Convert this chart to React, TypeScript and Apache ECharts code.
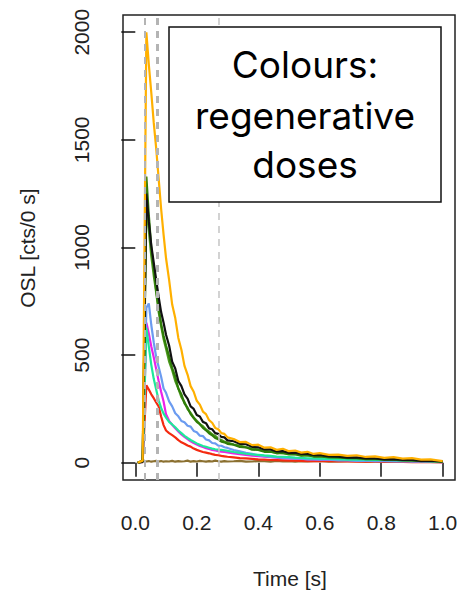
import React, { useEffect, useRef } from "react";
import * as echarts from "echarts";

const TIME = [
  0.008, 0.024, 0.036, 0.044, 0.052, 0.06, 0.068, 0.076, 0.084, 0.092,
  0.1, 0.11, 0.12, 0.13, 0.14, 0.15, 0.16, 0.17, 0.18, 0.19,
  0.2, 0.21, 0.22, 0.23, 0.24, 0.25, 0.26, 0.27, 0.28, 0.29,
  0.3, 0.32, 0.34, 0.36, 0.38, 0.4, 0.42, 0.44, 0.46, 0.48,
  0.5, 0.52, 0.54, 0.56, 0.58, 0.6, 0.63, 0.66, 0.69, 0.72,
  0.75, 0.78, 0.81, 0.84, 0.87, 0.9, 0.93, 0.96, 1.0,
];

const ORANGE = [
  0, 10, 2000, 1850, 1720, 1580, 1460, 1320, 1180, 1060,
  950, 850, 735, 672, 580, 525, 450, 410, 356, 330,
  288, 270, 238, 226, 198, 186, 162, 156, 138, 134,
  118, 110, 96, 97, 82, 84, 70, 72, 60, 65,
  54, 57, 47, 51, 41, 45, 37, 38, 32, 35,
  27, 30, 23, 26, 19, 22, 15, 16, 8,
];
const BLACK = [
  0, 5, 1250, 1120, 1010, 930, 850, 770, 700, 650,
  595, 545, 470, 438, 380, 356, 318, 298, 262, 250,
  222, 215, 190, 184, 160, 156, 138, 134, 120, 118,
  104, 100, 88, 86, 74, 72, 62, 62, 53, 54,
  46, 47, 41, 41, 36, 37, 30, 29, 24, 25,
  20, 20, 16, 17, 13, 13, 9, 10, 6,
];
const GREEN = [
  0, 8, 1330, 1150, 1000, 900, 800, 720, 645, 590,
  545, 495, 440, 400, 345, 318, 276, 256, 226, 208,
  190, 179, 162, 151, 137, 128, 115, 109, 98, 95,
  88, 84, 74, 72, 61, 60, 51, 52, 44, 46,
  39, 40, 33, 35, 29, 30, 25, 25, 21, 21,
  17, 18, 14, 15, 11, 12, 8, 9, 5,
];
const GREEN2 = [
  0, 6, 1200, 1080, 960, 870, 790, 700, 635, 575,
  530, 470, 430, 380, 345, 305, 282, 250, 232, 210,
  195, 180, 170, 155, 145, 132, 125, 112, 106, 98,
  94, 85, 80, 72, 66, 61, 55, 52, 47, 45,
  41, 40, 35, 34, 31, 30, 27, 25, 23, 21,
  19, 18, 16, 14, 13, 11, 10, 8, 5,
];
const BLUE = [
  0, 5, 720, 740, 640, 560, 490, 445, 400, 345,
  325, 285, 262, 230, 216, 194, 188, 172, 168, 148,
  142, 126, 124, 108, 104, 92, 90, 80, 79, 72,
  69, 59, 53, 46, 41, 35, 31, 27, 26, 23,
  22, 19, 19, 16, 16, 14, 14, 11, 11, 9,
  10, 7, 8, 6, 7, 5, 5, 4, 3,
];
const MAGENTA = [
  0, 4, 650, 600, 540, 490, 435, 380, 330, 285,
  225, 195, 176, 160, 146, 132, 120, 110, 100, 92,
  85, 78, 73, 68, 64, 60, 57, 54, 52, 50,
  48, 43, 40, 36, 33, 31, 28, 26, 24, 22,
  20, 19, 18, 17, 16, 15, 14, 13, 12, 11,
  10, 10, 9, 9, 8, 8, 7, 6, 3,
];
const CYAN = [
  0, 4, 627, 540, 455, 390, 340, 290, 255, 228,
  210, 190, 178, 165, 150, 138, 125, 115, 106, 98,
  90, 84, 78, 74, 70, 66, 63, 61, 60, 58,
  55, 50, 46, 42, 39, 37, 34, 32, 29, 28,
  26, 24, 23, 21, 20, 19, 18, 17, 15, 15,
  14, 13, 13, 12, 11, 11, 10, 9, 5,
];
const RED = [
  0, 3, 360, 340, 318, 300, 280, 262, 215, 175,
  150, 138, 128, 118, 105, 95, 88, 80, 75, 66,
  60, 55, 50, 47, 44, 40, 37, 35, 32, 30,
  28, 25, 22, 20, 18, 16, 15, 13, 12, 11,
  10, 10, 9, 8, 8, 7, 7, 6, 6, 5,
  5, 5, 4, 4, 4, 3, 3, 3, 2,
];
const BROWN = [
  0, 12, 6, 8, 5, 7, 9, 6, 8, 5,
  7, 6, 9, 5, 8, 6, 7, 10, 5, 8,
  6, 9, 7, 5, 8, 6, 10, 7, 5, 8,
  6, 7, 9, 5, 6, 8, 7, 5, 9, 6,
  7, 5, 8, 6, 7, 9, 5, 6, 8, 7,
  5, 6, 8, 7, 5, 6, 7, 5, 4,
];

const X_TICKS = [0, 0.2, 0.4, 0.6, 0.8, 1.0];
const Y_TICKS = [0, 500, 1000, 1500, 2000];
const INTEGRAL_LINES = [0.026, 0.074, 0.272];

const CURVES: { name: string; color: string; values: number[] }[] = [
  { name: "dose0", color: "#8b7030", values: BROWN },
  { name: "dose1", color: "#f42a10", values: RED },
  { name: "dose2", color: "#ea22ea", values: MAGENTA },
  { name: "dose3", color: "#6b9bf0", values: BLUE },
  { name: "dose4", color: "#1ee89a", values: CYAN },
  { name: "dose5", color: "#4f9a20", values: GREEN2 },
  { name: "dose6", color: "#2f7d08", values: GREEN },
  { name: "dose7", color: "#111111", values: BLACK },
  { name: "dose8", color: "#ffb000", values: ORANGE },
];

export default function App() {
  const ref = useRef<HTMLDivElement>(null);
  useEffect(() => {
    if (!ref.current) return;
    const chart = echarts.init(ref.current, undefined, { renderer: "svg" });
    const axisFont = "Liberation Sans, Arial, sans-serif";
    const boxFont = "Inter, Noto Sans, sans-serif";
    const series: any[] = CURVES.map((c) => ({
      name: c.name,
      type: "line",
      showSymbol: false,
      symbol: "none",
      data: TIME.map((t, i) => [t, c.values[i]]),
      lineStyle: { color: c.color, width: 2.2 },
      itemStyle: { color: c.color },
      z: 3,
    }));
    series.push({
      name: "integrals",
      type: "line",
      data: [],
      markLine: {
        silent: true,
        symbol: "none",
        label: { show: false },
        data: INTEGRAL_LINES.map((v, i) => ({
          xAxis: v,
          lineStyle: {
            color: i === 2 ? "#c8c8c8" : "#b4b4b4",
            width: i === 1 ? 3 : i === 0 ? 2 : 1.6,
            type: [7, 6],
          },
        })),
      },
      z: 2,
    });
    const boxText = (text: string, y: number) => ({
      type: "text",
      x: 305,
      y,
      z: 11,
      style: {
        text,
        fontSize: 37,
        fontFamily: boxFont,
        fill: "#000",
        align: "center",
        verticalAlign: "middle",
      },
    });
    chart.setOption({
      animation: false,
      backgroundColor: "#ffffff",
      grid: {
        left: 123,
        top: 15,
        width: 332,
        height: 465,
        show: true,
        borderColor: "#222222",
        borderWidth: 1.5,
        backgroundColor: "transparent",
      },
      xAxis: {
        type: "value",
        min: -0.04,
        max: 1.04,
        axisLine: { show: false },
        splitLine: { show: false },
        axisTick: {
          show: true,
          customValues: X_TICKS,
          length: 14,
          lineStyle: { color: "#111", width: 1.5 },
        },
        axisLabel: {
          customValues: X_TICKS,
          formatter: (v: number) => v.toFixed(1),
          fontSize: 21,
          fontFamily: axisFont,
          color: "#222",
          margin: 32,
        },
      },
      yAxis: {
        type: "value",
        min: -80,
        max: 2080,
        axisLine: { show: false },
        splitLine: { show: false },
        axisTick: {
          show: true,
          customValues: Y_TICKS,
          length: 14,
          lineStyle: { color: "#111", width: 1.5 },
        },
        axisLabel: {
          customValues: Y_TICKS,
          formatter: (v: number) => String(v),
          rotate: 90,
          fontSize: 21,
          fontFamily: axisFont,
          color: "#222",
          margin: 31,
        },
      },
      graphic: [
        {
          type: "text",
          x: 290,
          y: 578,
          style: {
            text: "Time [s]",
            fontSize: 21,
            fontFamily: axisFont,
            fill: "#222",
            align: "center",
            verticalAlign: "middle",
          },
        },
        {
          type: "text",
          x: 27,
          y: 248,
          rotation: Math.PI / 2,
          style: {
            text: "OSL [cts/0 s]",
            fontSize: 21,
            fontFamily: axisFont,
            fill: "#222",
            align: "center",
            verticalAlign: "middle",
          },
        },
        {
          type: "rect",
          shape: { x: 169, y: 27, width: 272, height: 175 },
          style: { fill: "#ffffff", stroke: "#111", lineWidth: 1.5 },
          z: 10,
        },
        boxText("Colours:", 64),
        boxText("regenerative", 115),
        boxText("doses", 164),
      ],
      series,
    });
    return () => chart.dispose();
  }, []);
  return (
    <div
      ref={ref}
      style={{ position: "fixed", left: 0, top: 0, width: 461, height: 594 }}
    />
  );
}
